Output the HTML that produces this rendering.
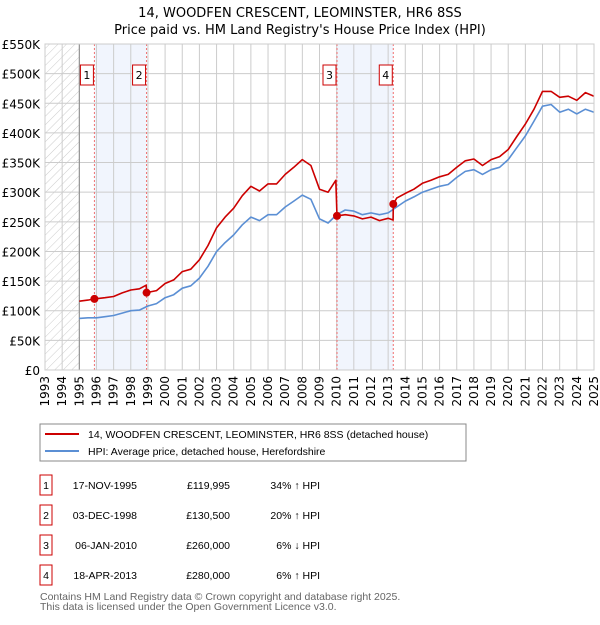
<!DOCTYPE html>
<html><head><meta charset="utf-8"><style>
body{margin:0;background:#fff;}
svg text{font-family:"DejaVu Sans","Liberation Sans",sans-serif;}
svg text.ls{font-family:"Liberation Sans",sans-serif;}
</style></head><body>
<svg id="c" width="600" height="620" xmlns="http://www.w3.org/2000/svg">
<defs><pattern id="hatch" width="6" height="6" patternUnits="userSpaceOnUse" patternTransform="rotate(45)"><line x1="0" y1="0" x2="0" y2="6" stroke="#ccc" stroke-width="1"/></pattern></defs>
<text x="300" y="17" text-anchor="middle" font-size="13">14, WOODFEN CRESCENT, LEOMINSTER, HR6 8SS</text>
<text x="300" y="34" text-anchor="middle" font-size="13">Price paid vs. HM Land Registry's House Price Index (HPI)</text>
<g id="plot"></g>
<rect x="40" y="424" width="426" height="37" fill="#fff" stroke="#888"/>
<line x1="45" y1="434" x2="79" y2="434" stroke="#cc0000" stroke-width="2"/>
<text class="ls" x="88" y="438" font-size="10.5">14, WOODFEN CRESCENT, LEOMINSTER, HR6 8SS (detached house)</text>
<line x1="45" y1="451" x2="79" y2="451" stroke="#5b8fd4" stroke-width="2"/>
<text class="ls" x="88" y="455" font-size="10.5">HPI: Average price, detached house, Herefordshire</text>
<g id="table" font-size="10.5"></g>
<text class="ls" x="40" y="600" font-size="10.5" fill="#666">Contains HM Land Registry data © Crown copyright and database right 2025.</text>
<text class="ls" x="40" y="610" font-size="10.5" fill="#666">This data is licensed under the Open Government Licence v3.0.</text>
</svg>
<script>
const hpiYears=[1995,1995.5,1996,1996.5,1997,1997.5,1998,1998.5,1999,1999.5,2000,2000.5,2001,2001.5,2002,2002.5,2003,2003.5,2004,2004.5,2005,2005.5,2006,2006.5,2007,2007.5,2008,2008.5,2009,2009.5,2010,2010.5,2011,2011.5,2012,2012.5,2013,2013.5,2014,2014.5,2015,2015.5,2016,2016.5,2017,2017.5,2018,2018.5,2019,2019.5,2020,2020.5,2021,2021.5,2022,2022.5,2023,2023.5,2024,2024.5,2025];
const hpiValues=[87,88,88,90,92,96,100,101,108,112,122,127,138,142,155,175,200,215,228,245,258,252,262,262,275,285,295,288,255,248,262,270,268,262,265,262,265,275,285,292,300,305,310,313,325,335,338,330,338,342,355,375,395,420,445,448,435,440,432,440,435];
const propYears=[1995,1995.5,1995.88,1996.5,1997,1997.5,1998,1998.5,1998.9,1998.92,1999.5,2000,2000.5,2001,2001.5,2002,2002.5,2003,2003.5,2004,2004.5,2005,2005.5,2006,2006.5,2007,2007.5,2008,2008.5,2009,2009.5,2009.95,2010.02,2010.5,2011,2011.5,2012,2012.5,2013,2013.29,2013.3,2013.5,2014,2014.5,2015,2015.5,2016,2016.5,2017,2017.5,2018,2018.5,2019,2019.5,2020,2020.5,2021,2021.5,2022,2022.5,2023,2023.5,2024,2024.5,2025];
const propValues=[116,118,120,122,124,130,135,137,143,130.5,134,146,152,166,170,186,210,240,258,273,294,310,302,314,314,330,342,355,345,305,300,320,260,262,260,255,258,252,256,253,280,290,298,305,315,320,326,330,342,353,356,345,355,360,372,394,415,440,470,470,460,462,455,468,462];
const saleLabels=["1","2","3","4"];
const saleYears=[1995.88,1998.92,2010.02,2013.3];
const salePrices=[119.995,130.5,260,280];
const saleDates=["17-NOV-1995","03-DEC-1998","06-JAN-2010","18-APR-2013"];
const salePriceText=["£119,995","£130,500","£260,000","£280,000"];
const saleHpiText=["34% ↑ HPI","20% ↑ HPI","6% ↓ HPI","6% ↑ HPI"];
const yTicks=[0,50,100,150,200,250,300,350,400,450,500,550];
const yTickLabels=["£0","£50K","£100K","£150K","£200K","£250K","£300K","£350K","£400K","£450K","£500K","£550K"];
const xTicks=[1993,1994,1995,1996,1997,1998,1999,2000,2001,2002,2003,2004,2005,2006,2007,2008,2009,2010,2011,2012,2013,2014,2015,2016,2017,2018,2019,2020,2021,2022,2023,2024,2025];

const NS="http://www.w3.org/2000/svg";
const X0=45,X1=594,Y0=370,Y1=44;
const xs=y=>X0+(y-1993)/(2025-1993)*(X1-X0);
const ys=v=>Y0-v/550*(Y0-Y1);
const plot=document.getElementById('plot');
function mk(tag,attrs,parent){const e=document.createElementNS(NS,tag);for(const k in attrs)e.setAttribute(k,attrs[k]);(parent||plot).appendChild(e);return e;}

let bg=mk('rect',{x:X0,y:Y1,width:X1-X0,height:Y0-Y1,fill:'#fff'});


let h=mk('rect',{x:X0,y:Y1,width:xs(1995)-X0,height:Y0-Y1,fill:'url(#hatch)'});


for(let i=0;i<saleYears.length;i+=2){
  let s=mk('rect',{x:xs(saleYears[i]),y:Y1,width:xs(saleYears[i+1])-xs(saleYears[i]),height:Y0-Y1,fill:'#f1f5fd'});
  
  
}
yTicks.forEach((t,i)=>{
  let l=mk('line',{x1:X0,x2:X1,y1:ys(t),y2:ys(t),stroke:'#ccc'});
  
  
  let tx=mk('text',{x:40,y:ys(t)+5,'text-anchor':'end','font-size':'12'});
  tx.textContent=yTickLabels[i];
  
  
});
xTicks.forEach(t=>{
  let l=mk('line',{x1:xs(t),x2:xs(t),y1:Y1,y2:Y0,stroke:'#ccc'});
  
  
  let tx=mk('text',{x:0,y:0,'text-anchor':'end','font-size':'12',transform:`translate(${xs(t)+4},${Y0+6}) rotate(-90)`});
  tx.textContent=t;
  
  
});
let ax=mk('line',{x1:xs(1995),x2:xs(1995),y1:Y1,y2:Y0,stroke:'#888'});


saleYears.forEach((y,i)=>{
  let l=mk('line',{x1:xs(y),x2:xs(y),y1:Y1,y2:Y0,stroke:'#f07070','stroke-dasharray':'2,2'});
  
  
});
function path(xa,va,color,name){
  let d=xa.map((x,i)=>(i?'L':'M')+xs(x).toFixed(1)+','+ys(va[i]).toFixed(1)).join('');
  let p=mk('path',{d,fill:'none',stroke:color,'stroke-width':1.6,'stroke-linejoin':'round'});
  
  
}
path(hpiYears,hpiValues,'#5b8fd4','hpi-line');
path(propYears,propValues,'#cc0000','property-line');
saleYears.forEach((y,i)=>{
  let c=mk('circle',{cx:xs(y),cy:ys(salePrices[i]),r:4,fill:'#cc0000'});
  
  
  let b=mk('rect',{x:xs(y)-14,y:65,width:13,height:20,fill:'#fff',stroke:'#cc0000'});
  
  
  let t=mk('text',{x:xs(y)-7.5,y:79,'text-anchor':'middle','font-size':'11'});
  t.textContent=saleLabels[i];
  
  
});
let fr=mk('rect',{x:X0,y:Y1,width:X1-X0,height:Y0-Y1,fill:'none',stroke:'#ccc'});



const tbl=document.getElementById('table');
const rowY=[485,515,545,575];
saleLabels.forEach((s,i)=>{
  const cy=rowY[i];
  let b=mk('rect',{x:40,y:cy-10,width:12,height:20,fill:'#fff',stroke:'#cc0000'},tbl);
  
  
  let t=mk('text',{x:46,y:cy+4,'text-anchor':'middle',class:'ls'},tbl);t.textContent=s;
  
  
  let d=mk('text',{x:137,y:cy+4,'text-anchor':'end',class:'ls'},tbl);d.textContent=saleDates[i];
  
  
  let p=mk('text',{x:230,y:cy+4,'text-anchor':'end',class:'ls'},tbl);p.textContent=salePriceText[i];
  
  
  let q=mk('text',{x:320,y:cy+4,'text-anchor':'end',class:'ls'},tbl);q.textContent=saleHpiText[i];
  
  
});
</script>
</body></html>
